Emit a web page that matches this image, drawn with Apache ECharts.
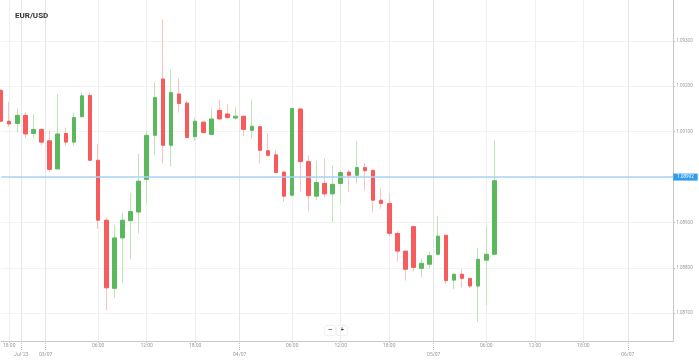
<!DOCTYPE html>
<html><head><meta charset="utf-8">
<script src="https://cdn.jsdelivr.net/npm/echarts@6/dist/echarts.min.js"></script>
<style>html,body{margin:0;padding:0;background:#fff}#c{width:699px;height:360px}</style>
</head><body><div id="c"></div>
<script>
// hour slot of each candle (03/07 00:00 = 0)
const hours = [-6,-5,-4,-3,-2,-1,0,1,2,3,4,5,6,7,8,9,10,11,12,13,14,15,16,17,18,19,20,21,22,23,24,25,26,27,28,29,30,31,32,33,34,35,36,37,38,39,40,41,42,43,44,45,46,47,48,49,50,51,52,53,54,55];
const opens = [1.09191,1.09123,1.09118,1.09136,1.09096,1.09105,1.09080,1.09018,1.09096,1.09077,1.09133,1.09180,1.09037,1.08905,1.08755,1.08866,1.08904,1.08923,1.08995,1.09092,1.09216,1.09070,1.09183,1.09163,1.09089,1.09121,1.09094,1.09147,1.09139,1.09130,1.09134,1.09103,1.09111,1.09058,1.09049,1.09011,1.08960,1.09150,1.09034,1.08958,1.08986,1.08963,1.08986,1.09011,1.09004,1.09021,1.09015,1.08949,1.08942,1.08876,1.08837,1.08891,1.08799,1.08808,1.08830,1.08872,1.08773,1.08786,1.08777,1.08760,1.08817,1.08830];
const closes = [1.09123,1.09117,1.09136,1.09095,1.09105,1.09077,1.09017,1.09095,1.09077,1.09131,1.09179,1.09037,1.08905,1.08756,1.08866,1.08905,1.08924,1.08991,1.09092,1.09175,1.09070,1.09186,1.09162,1.09087,1.09123,1.09098,1.09128,1.09128,1.09131,1.09134,1.09105,1.09112,1.09059,1.09048,1.09010,1.08958,1.09151,1.09034,1.08959,1.08988,1.08963,1.08984,1.09010,1.09004,1.09021,1.09014,1.08949,1.08942,1.08876,1.08837,1.08797,1.08801,1.08810,1.08827,1.08870,1.08772,1.08786,1.08777,1.08760,1.08819,1.08830,1.08992];
const lows = [1.09121,1.09111,1.09098,1.09085,1.09085,1.09070,1.09011,1.09017,1.09069,1.09069,1.09131,1.09036,1.08886,1.08707,1.08734,1.08766,1.08819,1.08876,1.08942,1.09048,1.09030,1.09023,1.09142,1.09086,1.09080,1.09096,1.09092,1.09125,1.09130,1.09127,1.09090,1.09085,1.09030,1.09045,1.09008,1.08946,1.08957,1.08967,1.08924,1.08949,1.08955,1.08900,1.08942,1.08967,1.08986,1.08970,1.08922,1.08930,1.08869,1.08814,1.08772,1.08792,1.08779,1.08799,1.08828,1.08764,1.08753,1.08757,1.08755,1.08681,1.08718,1.08829];
const highs = [1.09194,1.09166,1.09151,1.09142,1.09139,1.09107,1.09102,1.09183,1.09109,1.09142,1.09186,1.09186,1.09073,1.08911,1.08894,1.08922,1.08965,1.09051,1.09103,1.09210,1.09347,1.09236,1.09217,1.09168,1.09131,1.09123,1.09152,1.09170,1.09161,1.09153,1.09136,1.09170,1.09111,1.09096,1.09059,1.09014,1.09151,1.09150,1.09048,1.09036,1.09041,1.09025,1.09015,1.09017,1.09079,1.09031,1.09015,1.08975,1.08964,1.08881,1.08837,1.08892,1.08821,1.08836,1.08914,1.08872,1.08788,1.08797,1.08777,1.08844,1.08892,1.09081];

const timeTickPos = [-5, 6, 12, 18, 30, 36, 42, 54, 60, 66];
const timeTickLabels = ['18:00','06:00','12:00','18:00','06:00','12:00','18:00','06:00','12:00','18:00'];
const dateTickPos = [-3.5, -0.5, 23.5, 47.5, 71.5];
const dateTickLabels = ["Jul '23", '03/07', '04/07', '05/07', '06/07'];
const priceTicks = [1.087, 1.088, 1.089, 1.090, 1.091, 1.092, 1.093];

const GREEN = '#5cb85c', RED = '#f85b5b';
const GREEN_W = '#bfe3b9', RED_W = '#fbc2c2';
const FONT = 'Roboto, sans-serif';

const wickData = hours.map((h, i) => [h, opens[i], closes[i], lows[i], highs[i]]);
const bodyData = hours.map((h, i) => [h, opens[i], closes[i], Math.min(opens[i], closes[i]), Math.max(opens[i], closes[i])]);
const last = closes[closes.length - 1];

const X_MIN = -5.967, X_MAX = 77.13;

const chart = echarts.init(document.getElementById('c'), null, {renderer: 'canvas'});
chart.setOption({
  animation: false,
  backgroundColor: '#fff',
  textStyle: {fontFamily: FONT},
  title: {text: 'EUR/USD', left: 10, top: 7, textStyle: {fontSize: 8, fontWeight: 'bold', color: '#333', fontFamily: FONT}},
  grid: {left: 0, right: 25.7, top: 0, bottom: 19},
  xAxis: [{
    type: 'value', min: X_MIN, max: X_MAX, position: 'bottom',
    axisLine: {show: true, onZero: false, lineStyle: {color: '#c8c8c8'}},
    axisTick: {show: true, customValues: timeTickPos, length: 2, lineStyle: {color: '#c8c8c8'}},
    axisLabel: {customValues: timeTickPos, fontSize: 5, color: '#9a9a9a', margin: 2,
      formatter: v => timeTickLabels[timeTickPos.indexOf(v)] || ''},
    splitLine: {show: true, lineStyle: {color: '#efefef', width: 1}}
  }, {
    type: 'value', min: X_MIN, max: X_MAX, position: 'bottom',
    axisLine: {show: false, onZero: false},
    axisTick: {show: true, customValues: dateTickPos, length: 9, lineStyle: {color: '#bdbdbd', type: 'dotted'}},
    axisLabel: {customValues: dateTickPos, fontSize: 5, color: '#9a9a9a', margin: 11,
      formatter: v => dateTickLabels[dateTickPos.indexOf(v)] || ''},
    splitLine: {show: true, lineStyle: {color: '#e6e6e6', width: 1}}
  }],
  yAxis: {
    type: 'value', position: 'right', min: 1.08639, max: 1.09390, scale: true,
    axisLine: {show: true, onZero: false, lineStyle: {color: '#c8c8c8'}},
    axisTick: {show: true, customValues: priceTicks, length: 2, lineStyle: {color: '#c8c8c8'}},
    axisLabel: {customValues: priceTicks, fontSize: 4.5, color: '#9a9a9a', margin: 3,
      formatter: v => v.toFixed(5)},
    splitLine: {show: true, lineStyle: {color: '#f3f3f3'}}
  },
  series: [{
    type: 'candlestick', name: 'wick', xAxisIndex: 0, encode: {x: 0, y: [1, 2, 3, 4]},
    data: wickData, barWidth: 1,
    itemStyle: {color: GREEN_W, color0: RED_W, borderColor: GREEN_W, borderColor0: RED_W, borderWidth: 1},
    silent: true
  }, {
    type: 'candlestick', name: 'EUR/USD', xAxisIndex: 0, encode: {x: 0, y: [1, 2, 3, 4]},
    data: bodyData, barWidth: 4,
    itemStyle: {color: GREEN, color0: RED, borderColor: GREEN, borderColor0: RED, borderWidth: 1},
    markLine: {
      silent: true, symbol: ['none', 'none'],
      lineStyle: {color: '#a9d5f3', width: 1.5, type: 'solid', opacity: 1},
      emphasis: {disabled: true},
      label: {show: true, position: 'end', distance: 0, formatter: () => last.toFixed(5),
        backgroundColor: '#2f9cf0', color: '#fff', fontSize: 4.5, padding: [1, 4, 1, 4], fontFamily: FONT},
      data: [{yAxis: last}]
    }
  }],
  graphic: [{
    type: 'group', left: 325, top: 326,
    children: [
      {type: 'rect', shape: {x: 0, y: 0, width: 10, height: 9, r: 1}, style: {fill: '#fff', shadowBlur: 2, shadowColor: 'rgba(0,0,0,0.2)'}},
      {type: 'text', x: 5, y: 4.5, style: {text: '−', fontSize: 7, fill: '#555', align: 'center', verticalAlign: 'middle', fontWeight: 'bold'}},
      {type: 'rect', shape: {x: 12, y: 0, width: 10, height: 9, r: 1}, style: {fill: '#fff', shadowBlur: 2, shadowColor: 'rgba(0,0,0,0.2)'}},
      {type: 'text', x: 17, y: 4.5, style: {text: '+', fontSize: 7, fill: '#555', align: 'center', verticalAlign: 'middle', fontWeight: 'bold'}}
    ]
  }]
});
</script></body></html>
